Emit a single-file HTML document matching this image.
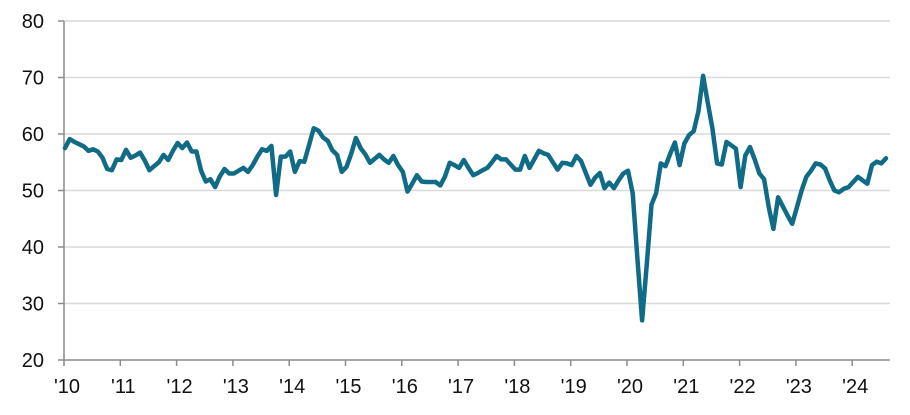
<!DOCTYPE html>
<html><head><meta charset="utf-8"><style>
html,body{margin:0;padding:0;background:#fff;}
svg{display:block;font-family:"Liberation Sans",Arial,sans-serif;}
</style></head><body>
<svg id="chart" width="910" height="415" viewBox="0 0 910 415" xmlns="http://www.w3.org/2000/svg">
<g id="grid"></g>
<g id="yaxis"></g>
<g id="xaxis"></g>
<path id="series" fill="none" stroke="#0f6b86" stroke-width="4.5" stroke-linejoin="round" stroke-linecap="round"></path>
</svg>
<script>
const yTicks = [20, 30, 40, 50, 60, 70, 80];
const xTickLabels = ["'10","'11","'12","'13","'14","'15","'16","'17","'18","'19","'20","'21","'22","'23","'24"];
const values = [
57.5,59.1,58.6,58.2,57.8,57,57.3,56.9,55.8,53.8,53.6,55.5,
55.4,57.2,55.8,56.2,56.7,55.3,53.6,54.3,55,56.3,55.4,57,
58.4,57.5,58.5,56.9,56.9,53.5,51.6,52,50.6,52.5,53.8,53,
53,53.5,54,53.3,54.5,56,57.3,57,57.9,49.2,56,56,
56.9,53.3,55.2,55.1,58,61,60.6,59.4,58.8,57.1,56.3,53.3,
54.2,56.5,59.3,57.5,56.4,54.9,55.6,56.3,55.5,54.9,56.1,54.5,
53.3,49.8,51.2,52.7,51.6,51.5,51.5,51.5,50.9,52.5,54.9,54.5,
54,55.4,54,52.7,53.1,53.6,54,55,56.1,55.5,55.5,54.6,
53.7,53.7,56.1,54,55.5,57,56.6,56.3,55,53.7,54.9,54.8,
54.5,56.1,55.2,53.1,51,52.3,53.1,50.4,51.4,50.4,51.8,53,
53.5,49.5,38,27,37,47.5,49.5,54.8,54.3,56.5,58.5,54.5,
58.3,59.8,60.5,64,70.3,65.5,61,54.8,54.6,58.6,58,57.4,
50.6,56.2,57.7,55.5,53,52,47,43.2,48.8,47.2,45.6,44.1,
47,50,52.4,53.5,54.8,54.6,53.9,51.8,50,49.7,50.3,50.6,
51.5,52.4,51.8,51.2,54.5,55.1,54.8,55.7
];
const X0 = 64, X1 = 890, YEAR_W = 56.3, Y_TOP = 21, Y_BOT = 360;
function xPos(i){ return X0 + 1 + i * YEAR_W / 12; }
function yPos(v){ return Y_BOT - (v - 20) / 60 * (Y_BOT - Y_TOP); }
const NS = "http://www.w3.org/2000/svg";
const grid = document.getElementById('grid'), ya = document.getElementById('yaxis'), xa = document.getElementById('xaxis');
function mk(tag, attrs, parent){ const e = document.createElementNS(NS, tag); for (const k in attrs) e.setAttribute(k, attrs[k]); parent.appendChild(e); return e; }
yTicks.forEach(t => {
  const y = yPos(t);
  if (t > 20) {
    const l = mk('line', {x1: X0, x2: X1, y1: y, y2: y, stroke: '#d9d9d9', 'stroke-width': 1.5}, grid);
    
    
  }
  const tk = mk('line', {x1: X0 - 6, x2: X0, y1: y, y2: y, stroke: '#8c8c8c', 'stroke-width': 1.5}, ya);
  
  
  const tx = mk('text', {x: 44, y: y + 7, 'text-anchor': 'end', 'font-size': 20, fill: '#111'}, ya);
  tx.textContent = t;
  
  
});
const yl = mk('line', {x1: X0, x2: X0, y1: Y_TOP, y2: Y_BOT, stroke: '#8c8c8c', 'stroke-width': 1.5}, ya);


const xl = mk('line', {x1: X0, x2: X1, y1: Y_BOT, y2: Y_BOT, stroke: '#8c8c8c', 'stroke-width': 1.5}, xa);


xTickLabels.forEach((lab, k) => {
  const x = X0 + k * YEAR_W;
  const tk = mk('line', {x1: x, x2: x, y1: Y_BOT, y2: Y_BOT + 6, stroke: '#8c8c8c', 'stroke-width': 1.5}, xa);
  
  
  const tx = mk('text', {x: x + 3, y: 393, 'text-anchor': 'middle', 'font-size': 20, fill: '#111'}, xa);
  tx.textContent = lab;
  
  
});
document.getElementById('series').setAttribute('d', values.map((v, i) => (i ? 'L' : 'M') + xPos(i).toFixed(1) + ',' + yPos(v).toFixed(1)).join(''));
</script>
</body></html>
